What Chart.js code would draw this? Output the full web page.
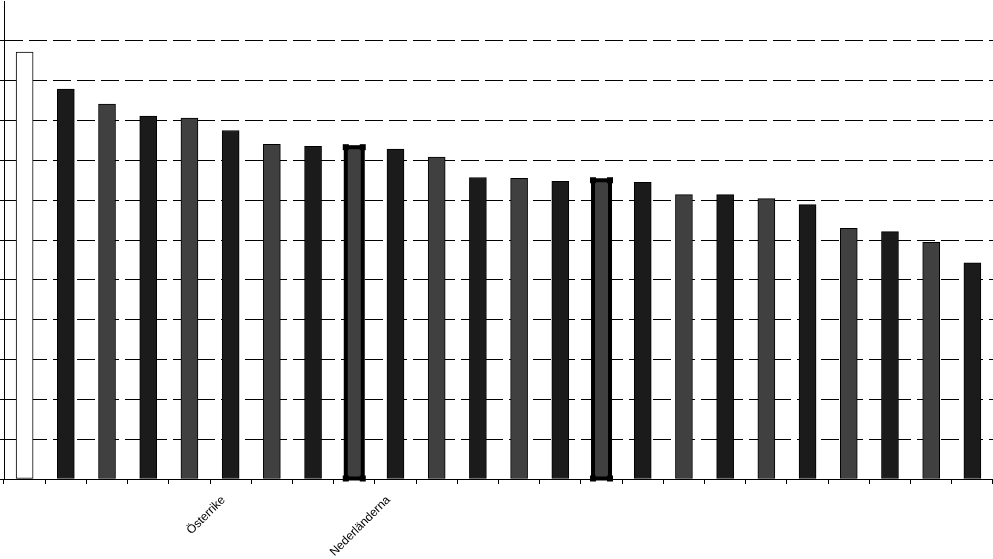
<!DOCTYPE html>
<html>
<head>
<meta charset="utf-8">
<script src="https://cdn.jsdelivr.net/npm/chart.js@4/dist/chart.umd.min.js"></script>
<style>
    html, body { margin: 0; padding: 0; background: #fff; }
    #wrap { width: 993px; height: 559px; }
</style>
</head>
<body>
<div id="wrap"><canvas id="myChart"></canvas></div>
<script>
// categories (only two are labelled in the picture)
var countries = ['', '', '', '', 'Österrike', '', '', '', 'Nederländerna', '', '', '',
                 '', '', '', '', '', '', '', '', '', '', '', ''];
var values = [10.72, 9.79, 9.41, 9.11, 9.06, 8.75, 8.40, 8.35, 8.33, 8.28, 8.08, 7.57,
              7.55, 7.47, 7.50, 7.45, 7.14, 7.14, 7.04, 6.89, 6.29, 6.21, 5.94, 5.43];
var yTicks = [0, 1, 2, 3, 4, 5, 6, 7, 8, 9, 10, 11, 12];
var marked = [8, 14];

document.addEventListener('DOMContentLoaded', function() {
    "use strict";

    // bar colours: first bar white, then dark / grey alternating
    var colors = values.map(function(v, i) {
        if (i === 0) return '#ffffff';
        return i % 2 === 1 ? '#1b1b1b' : '#404040';
    });

    /*thick outline with corner squares on the marked bars*/
    var markBars = {
        id: 'markBars',
        afterDatasetsDraw: function(chart) {
            var ctx = chart.ctx;
            var meta = chart.getDatasetMeta(0);
            marked.forEach(function(i) {
                var p = meta.data[i].getProps(['x', 'y', 'base', 'width'], true);
                var l = p.x - p.width / 2, r = p.x + p.width / 2;
                ctx.save();
                ctx.strokeStyle = '#000';
                ctx.lineWidth = 4;
                ctx.strokeRect(l, p.y, p.width, p.base - p.y);
                ctx.fillStyle = '#000';
                [[l, p.y], [r, p.y], [l, p.base], [r, p.base]].forEach(function(c) {
                    ctx.fillRect(c[0] - 3, c[1] - 3, 6, 6);
                });
                ctx.restore();
            });
        }
    };

    var ctx = document.getElementById('myChart').getContext('2d');
    var chart = new Chart(ctx, {
        type: 'bar',
        data: {
            labels: countries,
            datasets: [{
                data: values,
                backgroundColor: colors,
                borderColor: '#000',
                borderWidth: function(c) { return marked.indexOf(c.dataIndex) >= 0 ? 0 : 1; },
                borderSkipped: false,
                barThickness: 17
            }]
        },
        options: {
            responsive: true,
            maintainAspectRatio: false,
            animation: false,
            layout: { padding: { top: 1, left: 0, right: 0, bottom: 0 } },
            plugins: {
                legend: { display: false },
                tooltip: { enabled: false }
            },
            scales: {
                x: {
                    offset: true,
                    grid: {
                        offset: true,
                        drawOnChartArea: false,
                        drawTicks: true,
                        tickLength: 5,
                        color: '#000'
                    },
                    border: { display: true, color: '#000', width: 1 },
                    ticks: {
                        autoSkip: false,
                        maxRotation: 45,
                        minRotation: 45,
                        labelOffset: 34,
                        padding: 9,
                        color: '#000',
                        font: { family: 'Liberation Sans', size: 12 }
                    },
                    afterFit: function(scale) { scale.height = 80; }
                },
                y: {
                    min: 0,
                    max: 12,
                    afterBuildTicks: function(scale) {
                        scale.ticks = yTicks.map(function(v) { return { value: v }; });
                    },
                    grid: {
                        color: function(c) { return c.tick && c.tick.value === 12 ? 'rgba(0,0,0,0)' : '#000'; },
                        lineWidth: 1,
                        tickLength: 4,
                        tickColor: function(c) { return c.tick && c.tick.value === 12 ? 'rgba(0,0,0,0)' : '#000'; }
                    },
                    // in v4 the dash applies to the grid lines
                    border: { display: true, color: '#000', width: 1, dash: [18, 6] },
                    ticks: { display: false },
                    afterFit: function(scale) { scale.width = 4; }
                }
            }
        },
        plugins: [markBars]
    });
});
</script>
</body>
</html>
